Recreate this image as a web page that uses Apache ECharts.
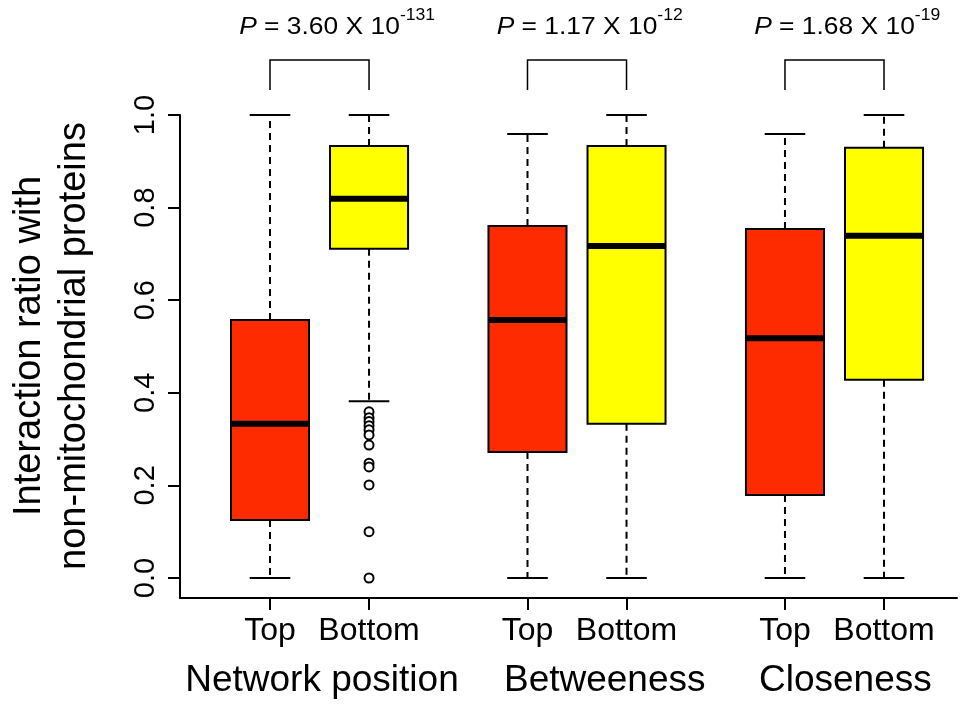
<!DOCTYPE html>
<html><head><meta charset="utf-8">
<script src="https://cdn.jsdelivr.net/npm/echarts@6/dist/echarts.min.js"></script>
<style>html,body{margin:0;padding:0;background:#fff}#c{width:964px;height:704px}</style>
</head><body><div id="c"></div>
<script>
// ---------------- data ----------------
const categories = ['Top', 'Bottom', 'Top', 'Bottom', 'Top', 'Bottom'];
const positions = [1, 2, 3.6, 4.6, 6.2, 7.2];
const whiskerLow = [0.0, 0.382, 0.0, 0.0, 0.0, 0.0];
const q1 = [0.125, 0.711, 0.272, 0.333, 0.179, 0.428];
const medians = [0.333, 0.819, 0.557, 0.717, 0.518, 0.739];
const q3 = [0.557, 0.933, 0.760, 0.933, 0.754, 0.929];
const whiskerHigh = [1.0, 1.0, 0.959, 1.0, 0.959, 1.0];
const outlierBoxIndex = 1;
const outlierValues = [0.359, 0.346, 0.338, 0.329, 0.320, 0.309, 0.287, 0.248, 0.240, 0.201, 0.100, 0.0];
const groupNames = ['Network position', 'Betweeness', 'Closeness'];
const groupLabelPos = [1.525, 4.38, 6.81];
const bracketPairs = [[0, 1], [2, 3], [4, 5]];
const pMantissa = ['3.60', '1.17', '1.68'];
const pExponent = ['-131', '-12', '-19'];
const yTicks = [0, 0.2, 0.4, 0.6, 0.8, 1.0];

// ---------------- style / layout ----------------
const FONT = '"Liberation Sans", Arial, Helvetica, sans-serif';
const boxColors = ['#FF2B00', '#FFFF00', '#FF2B00', '#FFFF00', '#FF2B00', '#FFFF00'];
const BOX_HALF = 0.394, CAP_HALF = 0.205;
const BRACKET_TOP = 1.119, BRACKET_LEG = 1.054, PTEXT_Y = 1.19, PSUP_Y = 1.215;
const P_SIZE = 24, P_SUP = 16, P_SCALE = 1.1;

const mctx = document.createElement('canvas').getContext('2d');
function tw(text, font) { mctx.font = font; return mctx.measureText(text).width; }

const boxData = positions.map((p, i) => [p, whiskerLow[i], q1[i], medians[i], q3[i], whiskerHigh[i]]);
const bracketData = bracketPairs.map(([a, b]) => [positions[a], positions[b]]);
const outlierData = outlierValues.map(v => [positions[outlierBoxIndex], v]);

function renderBox(params, api) {
  const x = api.value(0);
  const lo = api.coord([x, api.value(1)]);
  const a = api.coord([x, api.value(2)]);
  const m = api.coord([x, api.value(3)]);
  const b = api.coord([x, api.value(4)]);
  const hi = api.coord([x, api.value(5)]);
  const hw = api.size([BOX_HALF, 0])[0];
  const cw = api.size([CAP_HALF, 0])[0];
  const cx = a[0];
  const dash = { stroke: '#000', lineWidth: 2, lineDash: [7, 5] };
  const solid = { stroke: '#000', lineWidth: 2 };
  return {
    type: 'group', children: [
      { type: 'line', shape: { x1: cx, y1: b[1], x2: cx, y2: hi[1] }, style: dash },
      { type: 'line', shape: { x1: cx, y1: a[1], x2: cx, y2: lo[1] }, style: dash },
      { type: 'line', shape: { x1: cx - cw, y1: hi[1], x2: cx + cw, y2: hi[1] }, style: solid },
      { type: 'line', shape: { x1: cx - cw, y1: lo[1], x2: cx + cw, y2: lo[1] }, style: solid },
      { type: 'rect', shape: { x: cx - hw, y: b[1], width: 2 * hw, height: a[1] - b[1] },
        style: { fill: boxColors[params.dataIndex], stroke: '#000', lineWidth: 2 } },
      { type: 'line', shape: { x1: cx - hw, y1: m[1], x2: cx + hw, y2: m[1] }, style: { stroke: '#000', lineWidth: 6 } }
    ]
  };
}

function renderBracket(params, api) {
  const i = params.dataIndex;
  const l = api.value(0), r = api.value(1);
  const pl = api.coord([l, BRACKET_LEG]), tl = api.coord([l, BRACKET_TOP]);
  const pr = api.coord([r, BRACKET_LEG]), tr = api.coord([r, BRACKET_TOP]);
  const cx = (pl[0] + pr[0]) / 2;
  const ty = api.coord([l, PTEXT_Y])[1];
  const sy = api.coord([l, PSUP_Y])[1];
  const fI = 'italic ' + P_SIZE + 'px ' + FONT;
  const fN = P_SIZE + 'px ' + FONT;
  const fS = P_SUP + 'px ' + FONT;
  const rest = ' = ' + pMantissa[i] + ' X 10';
  const wP = tw('P', fI), wR = tw(rest, fN);
  const left = cx - (wP + wR) * P_SCALE / 2;
  const st = { stroke: '#000', lineWidth: 1.5 };
  return {
    type: 'group', children: [
      { type: 'polyline', shape: { points: [pl, tl, tr, pr] }, style: Object.assign({ fill: null }, st) },
      { type: 'text', x: left, y: ty, scaleX: P_SCALE, style: { text: 'P', font: fI, fill: '#000', align: 'left', verticalAlign: 'middle' } },
      { type: 'text', x: left + wP * P_SCALE, y: ty, scaleX: P_SCALE, style: { text: rest, font: fN, fill: '#000', align: 'left', verticalAlign: 'middle' } },
      { type: 'text', x: left + (wP + wR) * P_SCALE, y: sy, scaleX: P_SCALE, style: { text: pExponent[i], font: fS, fill: '#000', align: 'left', verticalAlign: 'middle' } }
    ]
  };
}

function nearIdx(arr, v) { return arr.findIndex(p => Math.abs(p - v) < 1e-6); }

const chart = echarts.init(document.getElementById('c'));
chart.setOption({
  animation: false,
  backgroundColor: '#fff',
  grid: { left: 180, right: 7, top: 115, bottom: 106, containLabel: false, outerBoundsMode: 'none' },
  xAxis: [{
    type: 'value', min: 0.0912, max: 7.937,
    axisLine: { show: true, onZero: false, lineStyle: { color: '#000', width: 2 } },
    axisTick: { show: true, customValues: positions, length: 12, lineStyle: { color: '#000', width: 2 } },
    axisLabel: { customValues: positions, formatter: v => categories[nearIdx(positions, v)] || '',
      fontSize: 32, fontFamily: FONT, color: '#000', margin: 17 },
    splitLine: { show: false }
  }, {
    type: 'value', min: 0.0912, max: 7.937, position: 'bottom',
    axisLine: { show: false }, axisTick: { show: false },
    axisLabel: { customValues: groupLabelPos, formatter: v => groupNames[nearIdx(groupLabelPos, v)] || '',
      fontSize: 37, fontFamily: FONT, color: '#000', margin: 64 },
    splitLine: { show: false }
  }],
  yAxis: {
    type: 'value', min: -0.0432, max: 1,
    axisLine: { show: true, lineStyle: { color: '#000', width: 2 } },
    axisTick: { show: true, customValues: yTicks, length: 12, lineStyle: { color: '#000', width: 2 } },
    axisLabel: { customValues: yTicks, formatter: v => v.toFixed(1), rotate: 90,
      fontSize: 29, fontFamily: FONT, color: '#000', margin: 20 },
    splitLine: { show: false }
  },
  graphic: [{
    type: 'text', x: 52, y: 346, rotation: Math.PI / 2,
    style: { text: 'Interaction ratio with\nnon-mitochondrial proteins', font: '38px ' + FONT,
      fill: '#000', align: 'center', verticalAlign: 'middle', textAlign: 'center', textVerticalAlign: 'middle', lineHeight: 45 }
  }],
  series: [{
    type: 'custom', name: 'boxes', renderItem: renderBox, data: boxData,
    encode: { x: 0, y: [1, 2, 3, 4, 5] }, clip: false, z: 2
  }, {
    type: 'scatter', name: 'outliers', data: outlierData, symbol: 'circle', symbolSize: 9,
    itemStyle: { color: '#fff', borderColor: '#000', borderWidth: 2, opacity: 1 }, z: 3
  }, {
    type: 'custom', name: 'brackets', renderItem: renderBracket, data: bracketData,
    encode: { x: [0, 1] }, clip: false, z: 3
  }]
});
</script></body></html>
